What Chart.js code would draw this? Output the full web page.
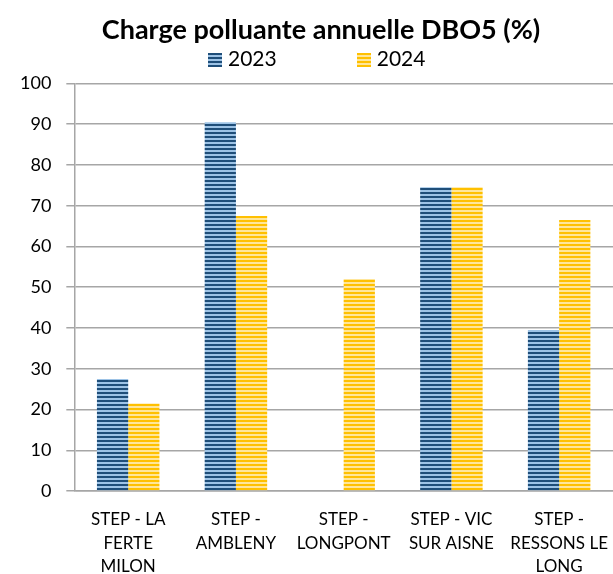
<!DOCTYPE html>
<html>
<head>
<meta charset="utf-8">
<script src="https://cdn.jsdelivr.net/npm/chart.js@4"></script>
<style>
  body { margin: 0; background: #fff; }
  #wrap { position: relative; width: 613px; height: 574px; }
  #legend { position: absolute; left: 208px; top: 42px; font-family: Lato, sans-serif; font-size: 21px; color: #000; white-space: nowrap; }
  .item { display: inline-block; vertical-align: middle; }
  .item + .item { margin-left: 80px; }
  .box { display: inline-block; width: 14px; height: 14px; vertical-align: -1px; margin-right: 6px; }
</style>
</head>
<body>
<div id="wrap">
  <canvas id="chart" width="613" height="574"></canvas>
  <div id="legend"></div>
</div>
<script>
// chart data
const categories = [
    ['STEP - LA', 'FERTE', 'MILON'],
    ['STEP -', 'AMBLENY'],
    ['STEP -', 'LONGPONT'],
    ['STEP - VIC', 'SUR AISNE'],
    ['STEP -', 'RESSONS LE', 'LONG']
];
const seriesNames = ['2023', '2024'];
const values2023 = [27.5, 90.5, 0, 74.5, 39.5];
const values2024 = [21.5, 67.5, 52, 74.5, 66.5];
const yTicks = [0, 10, 20, 30, 40, 50, 60, 70, 80, 90, 100];

const seriesColors = [['#1f4e79', '#9dc3e6'], ['#ffc000', '#ffe699']];

// striped fill like the excel pattern
function stripes(dark, light) {
    const c = document.createElement('canvas');
    c.width = 4;
    c.height = 4;
    const g = c.getContext('2d');
    g.fillStyle = light;
    g.fillRect(0, 0, 4, 4);
    g.fillStyle = dark;
    g.fillRect(0, 0, 4, 2);
    return g.createPattern(c, 'repeat');
}

// legend in html, spaced out like the original
const legend = document.getElementById('legend');
seriesNames.forEach((name, i) => {
    const [dark, light] = seriesColors[i];
    const item = document.createElement('span');
    item.className = 'item';
    item.innerHTML = '<span class="box" style="background: repeating-linear-gradient(to bottom, ' +
        dark + ' 0 2px, ' + light + ' 2px 4px)"></span>' + name;
    legend.appendChild(item);
});

// nudge the title a bit right, it sits over the plot in the original
const shiftTitle = {
    id: 'shiftTitle',
    afterLayout(chart) {
        if (chart.titleBlock) chart.titleBlock.left += 24;
    }
};

const ctx = document.getElementById('chart').getContext('2d');

new Chart(ctx, {
    type: 'bar',
    data: {
        labels: categories,
        datasets: [
            { label: seriesNames[0], data: values2023, backgroundColor: stripes(...seriesColors[0]), borderWidth: 0 },
            { label: seriesNames[1], data: values2024, backgroundColor: stripes(...seriesColors[1]), borderWidth: 0 }
        ]
    },
    plugins: [shiftTitle],
    options: {
        responsive: false,
        animation: false,
        layout: { padding: { left: 5, right: 0, top: 0, bottom: -21 } },
        datasets: { bar: { categoryPercentage: 0.58, barPercentage: 1 } },
        plugins: {
            title: {
                display: true,
                text: 'Charge polluante annuelle DBO5 (%)',
                color: '#000',
                font: { family: 'Lato', size: 27, weight: 'bold' },
                padding: { top: 14, bottom: 37 }
            },
            legend: { display: false },
            tooltip: { enabled: false }
        },
        scales: {
            x: {
                grid: { display: false, drawTicks: false },
                border: { color: '#a6a6a6', width: 1.5 },
                ticks: {
                    color: '#000',
                    font: { family: 'Lato', size: 17, lineHeight: 1.41 },
                    maxRotation: 0,
                    autoSkip: false,
                    padding: 16
                },
                // let the plot run to the right edge like the original
                afterFit: s => { s.paddingRight = 0; s.paddingLeft = 0; }
            },
            y: {
                min: 0,
                max: 100,
                afterBuildTicks: axis => { axis.ticks = yTicks.map(v => ({ value: v })); },
                grid: { color: '#a6a6a6', lineWidth: 1.5, drawTicks: true, tickLength: 8 },
                border: { color: '#a6a6a6', width: 1.5 },
                ticks: {
                    color: '#000',
                    font: { family: 'Lato', size: 18 },
                    padding: 15
                }
            }
        }
    }
});
</script>
</body>
</html>
